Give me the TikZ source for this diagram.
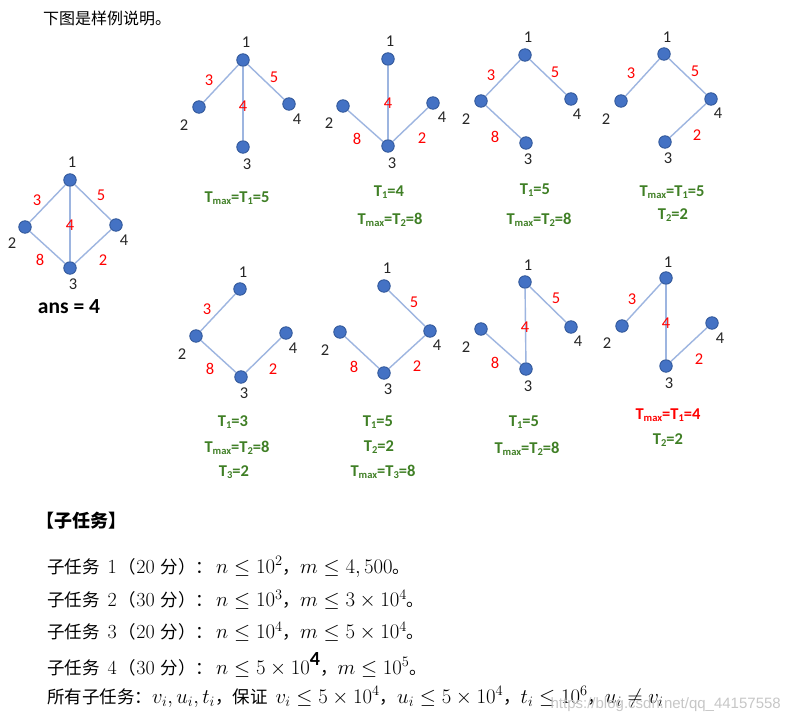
\documentclass[tikz,border=0pt]{standalone}
\usepackage{fontspec}
\newfontfamily\calib{Carlito}
\newfontfamily\cjk{Noto Sans CJK SC}
\newfontfamily\wmfont{Liberation Sans}
\definecolor{vfill}{HTML}{4472C4}
\definecolor{vdraw}{HTML}{2F5597}
\definecolor{ecol}{HTML}{9DB5E0}
\definecolor{tgreen}{HTML}{3F7F25}
\definecolor{tred}{HTML}{FF0000}
\newcommand{\sbs}[1]{\raisebox{-0.3ex}{\fontsize{10.5}{10.5}\selectfont #1}}
\newcommand{\mth}[1]{{\fontsize{20}{22}\selectfont$#1$}}
\newcommand{\dg}[1]{{\fontsize{20}{22}\selectfont\rmfamily #1}}
\newcommand{\gp}[1]{\hspace*{#1pt}}
\tikzset{
 vtx/.style={circle,fill=vfill,draw=vdraw,line width=0.8pt,inner sep=0pt,minimum size=12.5pt},
 lnk/.style={draw=ecol,line width=1.4pt},
 num/.style={font=\calib\fontsize{16.5}{16.5}\selectfont,text=black!85,inner sep=0pt},
 wt/.style={font=\calib\fontsize{16.5}{16.5}\selectfont,text=tred,inner sep=0pt},
 res/.style={font=\calib\bfseries\fontsize{16.5}{16.5}\selectfont,text=tgreen,inner sep=0pt},
 sub/.style={font=\cjk\fontsize{17.5}{20}\selectfont,anchor=west,inner sep=0pt},
}
\begin{document}
\begin{tikzpicture}[x=1pt,y=-1pt]
\useasboundingbox[fill=white] (0,0) rectangle (790,725);
\node[font=\cjk\fontsize{16}{18}\selectfont,anchor=west,inner sep=0pt] (title) at (43,18) {下图是样例说明。};

% ---------- G0 (full graph) ----------
\node[vtx] (a1) at (70,180) {};
\node[vtx] (a2) at (25,227) {};
\node[vtx] (a3) at (70,268) {};
\node[vtx] (a4) at (116,225) {};
\draw[lnk] (a1)--(a2); \draw[lnk] (a1)--(a3); \draw[lnk] (a1)--(a4);
\draw[lnk] (a2)--(a3); \draw[lnk] (a3)--(a4);
\node[num] (a1l) at (72,162) {1};
\node[num] (a2l) at (12,243) {2};
\node[num] (a3l) at (73,284) {3};
\node[num] (a4l) at (124,240) {4};
\node[wt] (a12) at (37,200) {3};
\node[wt] (a14) at (101,195) {5};
\node[wt] (a13) at (70,225) {4};
\node[wt] (a23) at (40,260) {8};
\node[wt] (a34) at (103,260) {2};
\node[font=\calib\bfseries\fontsize{21.5}{21.5}\selectfont,inner sep=0pt] (ans) at (69,307) {ans = 4};

% ---------- G1 ----------
\node[vtx] (b1) at (243,60) {};
\node[vtx] (b2) at (199,107) {};
\node[vtx] (b3) at (243,147) {};
\node[vtx] (b4) at (289,104) {};
\draw[lnk] (b1)--(b2); \draw[lnk] (b1)--(b3); \draw[lnk] (b1)--(b4);
\node[num] (b1l) at (246,42) {1};
\node[num] (b2l) at (184,125) {2};
\node[num] (b3l) at (247,164) {3};
\node[num] (b4l) at (297,119) {4};
\node[wt] (b12) at (209,80) {3};
\node[wt] (b14) at (274,77) {5};
\node[wt] (b13) at (243,106) {4};
\node[res] (bt1) at (237,198) {T\sbs{max}=T\sbs{1}=5};

% ---------- G2 ----------
\node[vtx] (c1) at (388,59) {};
\node[vtx] (c2) at (343,106) {};
\node[vtx] (c3) at (388,146) {};
\node[vtx] (c4) at (433,103) {};
\draw[lnk] (c1)--(c3); \draw[lnk] (c2)--(c3); \draw[lnk] (c3)--(c4);
\node[num] (c1l) at (390,41) {1};
\node[num] (c2l) at (329,123) {2};
\node[num] (c3l) at (392,163) {3};
\node[num] (c4l) at (442,117) {4};
\node[wt] (c13) at (388,103) {4};
\node[wt] (c23) at (357,139) {8};
\node[wt] (c34) at (422,138) {2};
\node[res] (ct1) at (389,192) {T\sbs{1}=4};
\node[res] (ct2) at (390,220) {T\sbs{max}=T\sbs{2}=8};

% ---------- G3 ----------
\node[vtx] (d1) at (525,55) {};
\node[vtx] (d2) at (481,101) {};
\node[vtx] (d3) at (526,143) {};
\node[vtx] (d4) at (571,99) {};
\draw[lnk] (d1)--(d2); \draw[lnk] (d1)--(d4); \draw[lnk] (d2)--(d3);
\node[num] (d1l) at (528,37) {1};
\node[num] (d2l) at (466,119) {2};
\node[num] (d3l) at (528,159) {3};
\node[num] (d4l) at (577,114) {4};
\node[wt] (d12) at (491,75) {3};
\node[wt] (d14) at (555,72) {5};
\node[wt] (d23) at (495,137) {8};
\node[res] (dt1) at (535,190) {T\sbs{1}=5};
\node[res] (dt2) at (539,220) {T\sbs{max}=T\sbs{2}=8};

% ---------- G4 ----------
\node[vtx] (e1) at (664,54) {};
\node[vtx] (e2) at (621,101) {};
\node[vtx] (e3) at (665,142) {};
\node[vtx] (e4) at (711,99) {};
\draw[lnk] (e1)--(e2); \draw[lnk] (e1)--(e4); \draw[lnk] (e4)--(e3);
\node[num] (e1l) at (667,37) {1};
\node[num] (e2l) at (606,119) {2};
\node[num] (e3l) at (668,158) {3};
\node[num] (e4l) at (718,113) {4};
\node[wt] (e12) at (631,73) {3};
\node[wt] (e14) at (695,71) {5};
\node[wt] (e34) at (697,135) {2};
\node[res] (et1) at (672,192) {T\sbs{max}=T\sbs{1}=5};
\node[res] (et2) at (673,215) {T\sbs{2}=2};

% ---------- G5 ----------
\node[vtx] (f1) at (240,289) {};
\node[vtx] (f2) at (196,336) {};
\node[vtx] (f3) at (241,377) {};
\node[vtx] (f4) at (286,333) {};
\draw[lnk] (f1)--(f2); \draw[lnk] (f2)--(f3); \draw[lnk] (f3)--(f4);
\node[num] (f1l) at (243,272) {1};
\node[num] (f2l) at (182,354) {2};
\node[num] (f3l) at (244,393) {3};
\node[num] (f4l) at (293,348) {4};
\node[wt] (f12) at (207,309) {3};
\node[wt] (f23) at (210,369) {8};
\node[wt] (f34) at (273,369) {2};
\node[res] (ft1) at (233,422) {T\sbs{1}=3};
\node[res] (ft2) at (237,448) {T\sbs{max}=T\sbs{2}=8};
\node[res] (ft3) at (234,472) {T\sbs{3}=2};

% ---------- G6 ----------
\node[vtx] (g1) at (384,286) {};
\node[vtx] (g2) at (340,332) {};
\node[vtx] (g3) at (384,373) {};
\node[vtx] (g4) at (430,331) {};
\draw[lnk] (g1)--(g4); \draw[lnk] (g2)--(g3); \draw[lnk] (g3)--(g4);
\node[num] (g1l) at (387,268) {1};
\node[num] (g2l) at (325,350) {2};
\node[num] (g3l) at (388,389) {3};
\node[num] (g4l) at (437,345) {4};
\node[wt] (g14) at (414,302) {5};
\node[wt] (g23) at (354,367) {8};
\node[wt] (g34) at (417,366) {2};
\node[res] (gt1) at (378,422) {T\sbs{1}=5};
\node[res] (gt2) at (379,447) {T\sbs{2}=2};
\node[res] (gt3) at (383,472) {T\sbs{max}=T\sbs{3}=8};

% ---------- G7 ----------
\node[vtx] (h1) at (525,282) {};
\node[vtx] (h2) at (481,329) {};
\node[vtx] (h3) at (526,369) {};
\node[vtx] (h4) at (571,327) {};
\draw[lnk] (h1)--(h3); \draw[lnk] (h1)--(h4); \draw[lnk] (h2)--(h3);
\node[num] (h1l) at (528,265) {1};
\node[num] (h2l) at (466,347) {2};
\node[num] (h3l) at (528,386) {3};
\node[num] (h4l) at (578,341) {4};
\node[wt] (h14) at (556,298) {5};
\node[wt] (h13) at (525,327) {4};
\node[wt] (h23) at (495,363) {8};
\node[res] (ht1) at (524,422) {T\sbs{1}=5};
\node[res] (ht2) at (527,449) {T\sbs{max}=T\sbs{2}=8};

% ---------- G8 ----------
\node[vtx] (k1) at (666,278) {};
\node[vtx] (k2) at (622,326) {};
\node[vtx] (k3) at (666,366) {};
\node[vtx] (k4) at (712,323) {};
\draw[lnk] (k1)--(k2); \draw[lnk] (k1)--(k3); \draw[lnk] (k3)--(k4);
\node[num] (k1l) at (668,262) {1};
\node[num] (k2l) at (607,343) {2};
\node[num] (k3l) at (669,383) {3};
\node[num] (k4l) at (720,338) {4};
\node[wt] (k12) at (632,299) {3};
\node[wt] (k13) at (666,323) {4};
\node[wt] (k34) at (699,359) {2};
\node[res,text=tred] (kt1) at (668,415) {T\sbs{max}=T\sbs{1}=4};
\node[res] (kt2) at (668,440) {T\sbs{2}=2};

% ---------- subtasks ----------
\node[font=\cjk\bfseries\fontsize{18}{20}\selectfont,anchor=west,inner sep=0pt] (head) at (36,521) {【子任务】};
\node[sub] (s1) at (47,567) {子任务\gp{8}\dg{1}\gp{2}（\dg{20}\gp{6}分）：\gp{3}\mth{n\le 10^2}，\mth{m\le 4,500}。};
\node[sub] (s2) at (47,600) {子任务\gp{8}\dg{2}\gp{2}（\dg{30}\gp{6}分）：\gp{3}\mth{n\le 10^3}，\mth{m\le 3\times 10^4}。};
\node[sub] (s3) at (47,632) {子任务\gp{8}\dg{3}\gp{2}（\dg{20}\gp{6}分）：\gp{3}\mth{n\le 10^4}，\mth{m\le 5\times 10^4}。};
\node[sub] (s4) at (47,665) {子任务\gp{8}\dg{4}\gp{2}（\dg{30}\gp{6}分）：\gp{3}\mth{n\le 5\times 10}\raisebox{0.5em}{\calib\bfseries\fontsize{20}{20}\selectfont 4}，\mth{m\le 10^5}。};
\node[sub] (s5) at (47,697) {所有子任务：\mth{v_i,u_i,t_i}，保证\gp{8}\mth{v_i\le 5\times 10^4}，\mth{u_i\le 5\times 10^4}，\mth{t_i\le 10^6}，\mth{u_i\ne v_i}};
\node[font=\wmfont\fontsize{15}{16}\selectfont,text=black!22,anchor=east,inner sep=0pt] (wm) at (781,705) {https://blog.csdn.net/qq\_44157558};
\end{tikzpicture}
\end{document}
